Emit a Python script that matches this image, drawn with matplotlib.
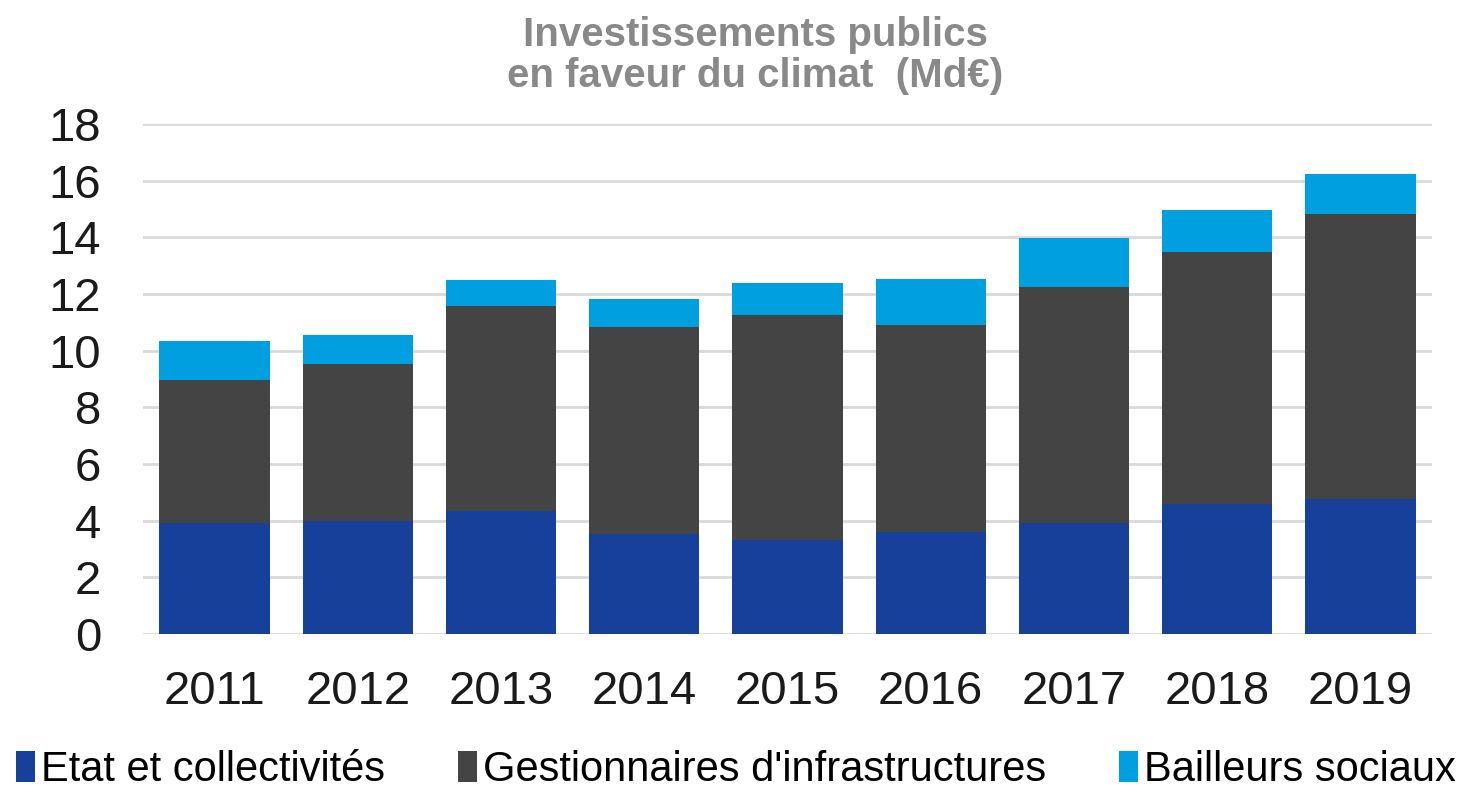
import matplotlib.pyplot as plt
import numpy as np

plt.rcParams['font.family'] = ['Liberation Sans', 'DejaVu Sans']

annees = ['2011', '2012', '2013', '2014', '2015', '2016', '2017', '2018', '2019']
etat = [3.92, 3.99, 4.34, 3.53, 3.32, 3.60, 3.92, 4.59, 4.77]
gestionnaires = [5.05, 5.54, 7.24, 7.31, 7.94, 7.31, 8.33, 8.89, 10.05]
bailleurs = [1.37, 1.02, 0.92, 0.98, 1.13, 1.62, 1.73, 1.49, 1.42]

series = ['Etat et collectivités', "Gestionnaires d'infrastructures", 'Bailleurs sociaux']
couleurs = ['#17409A', '#444444', '#009FDF']

fig = plt.figure(figsize=(14.66, 7.9), dpi=100)
ax = fig.add_axes([143 / 1466, 1 - 634 / 790, (1432 - 143) / 1466, 510 / 790])

x = np.arange(len(annees))
bas = np.zeros(len(annees))
for nom, vals, c in zip(series, [etat, gestionnaires, bailleurs], couleurs):
    ax.bar(x, vals, 0.77, bottom=bas, color=c, label=nom, zorder=3)
    bas = bas + np.array(vals)

ax.set_xlim(-0.5, len(annees) - 0.5)
ax.set_ylim(0, 18)
ax.set_yticks(range(0, 19, 2))
ax.set_xticks(x)
ax.set_xticklabels(annees)
ax.tick_params(axis='both', length=0, labelsize=34, colors='#1a1a1a')
ax.tick_params(axis='x', pad=26)
ax.tick_params(axis='y', pad=30)
ax.grid(axis='y', color='#D9D9D9', linewidth=2, zorder=0)
for s in ax.spines.values():
    s.set_visible(False)

fig.text(0.515, 0.98, 'Investissements publics\nen faveur du climat  (Md€)',
         ha='center', va='top', fontsize=29, fontweight='bold', color='#898989',
         linespacing=1.1)

fig.legend(loc='center', bbox_to_anchor=(0.502, 0.025), ncol=3, frameon=False,
           fontsize=30, handlelength=0.45, handleheight=0.75, handletextpad=0.15,
           columnspacing=1.75)

fig.savefig('out.png', dpi=100)
